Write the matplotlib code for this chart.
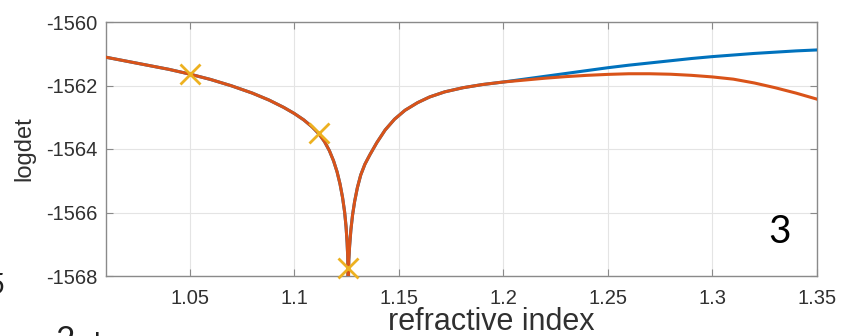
import matplotlib
matplotlib.use("Agg")
import matplotlib.pyplot as plt

plt.rcParams['font.family'] = ['Liberation Sans', 'DejaVu Sans']
plt.rcParams['axes.unicode_minus'] = False

# refractive index samples shared by both curves up to the split near 1.2
n_common = [1.010, 1.025, 1.040, 1.050, 1.060, 1.070, 1.080, 1.088, 1.095,
            1.100, 1.1045, 1.1085, 1.1118, 1.1145, 1.1168, 1.1188, 1.1205,
            1.1219, 1.1231, 1.1241, 1.1248, 1.1253, 1.1256, 1.1258,
            1.1261, 1.1265, 1.1271, 1.1279, 1.1289, 1.1302, 1.1318, 1.1338,
            1.1362, 1.1395, 1.1435, 1.148, 1.153, 1.159, 1.1648, 1.172,
            1.1807, 1.190, 1.200]
logdet_common = [-1561.11, -1561.30, -1561.49, -1561.64, -1561.81, -1562.01,
                 -1562.24, -1562.46, -1562.69, -1562.88, -1563.08, -1563.30,
                 -1563.52, -1563.77, -1564.05, -1564.37, -1564.72, -1565.10,
                 -1565.52, -1565.98, -1566.45, -1566.95, -1567.40, -1568.60,
                 -1567.50, -1567.05, -1566.55, -1566.08, -1565.65, -1565.22,
                 -1564.82, -1564.48, -1564.18, -1563.80, -1563.40, -1563.06,
                 -1562.78, -1562.54, -1562.36, -1562.20, -1562.07, -1561.97,
                 -1561.89]

# beyond 1.2 the two curves separate
n_tail = [1.210, 1.220, 1.230, 1.240, 1.250, 1.260, 1.270, 1.280, 1.290,
          1.300, 1.310, 1.320, 1.330, 1.340, 1.350]
logdet_blue_tail = [-1561.80, -1561.71, -1561.62, -1561.53, -1561.44, -1561.36,
                    -1561.29, -1561.22, -1561.15, -1561.09, -1561.04, -1560.99,
                    -1560.95, -1560.91, -1560.88]
logdet_red_tail = [-1561.83, -1561.77, -1561.72, -1561.68, -1561.65, -1561.63,
                   -1561.63, -1561.645, -1561.68, -1561.73, -1561.80, -1561.92,
                   -1562.07, -1562.24, -1562.43]

# sampled points marked with crosses
mark_n = [1.05, 1.1118, 1.1258]
mark_logdet = [-1561.64, -1563.51, -1567.76]

xticks = [1.05, 1.1, 1.15, 1.2, 1.25, 1.3, 1.35]
xticklabels = ['1.05', '1.1', '1.15', '1.2', '1.25', '1.3', '1.35']
yticks = [-1568, -1566, -1564, -1562, -1560]

fig = plt.figure(figsize=(8.41, 3.36), dpi=100)
ax = fig.add_axes([106 / 841, 60 / 336, 711 / 841, 254 / 336])

ax.plot(n_common + n_tail, logdet_common + logdet_blue_tail,
        color='#0072BD', lw=2.2, zorder=3)
ax.plot(n_common + n_tail, logdet_common + logdet_red_tail,
        color='#D95319', lw=2.2, zorder=4)
ax.plot(mark_n, mark_logdet, 'x', color='#EDB120', ms=14, mew=2, zorder=5,
        clip_on=False)

ax.set_xlim(1.01, 1.35)
ax.set_ylim(-1568, -1560)
ax.set_xticks(xticks)
ax.set_xticklabels(xticklabels)
ax.set_yticks(yticks)

ax.grid(True, color='#e4e4e4', lw=0.8)
ax.set_axisbelow(True)
for s in ax.spines.values():
    s.set_color('#8a8a8a')
    s.set_linewidth(1.0)
ax.tick_params(direction='in', length=5, width=0.8, color='#8a8a8a',
               top=True, right=True, labelsize=14.5, labelcolor='#303030')
ax.tick_params(axis='x', pad=9)
ax.tick_params(axis='y', pad=6)

ax.set_xlabel('refractive index', fontsize=22, color='#303030', va='top')
ax.xaxis.set_label_coords(0.5415, -0.122)
ax.set_ylabel('logdet', fontsize=17, color='#303030')
ax.yaxis.set_label_coords(-0.1, 0.5)

# neighbouring slide text around the plot
fig.text(780 / 841, 1 - 243 / 336, '3', fontsize=28, family='Lato',
         ha='center', va='baseline', color='black')
fig.text(5 / 841, 1 - 294 / 336, '5', fontsize=20, family='Lato',
         ha='right', va='baseline', color='#202020')
fig.text(65 / 841, 1 - 326 / 336, '2', fontsize=24, family='Lato',
         ha='center', va='top', color='#202020')
fig.text(94 / 841, 1 - 332 / 336, 'h', fontsize=20, family='Lato',
         ha='left', va='top', color='#202020')

fig.savefig('out.png', dpi=100)
